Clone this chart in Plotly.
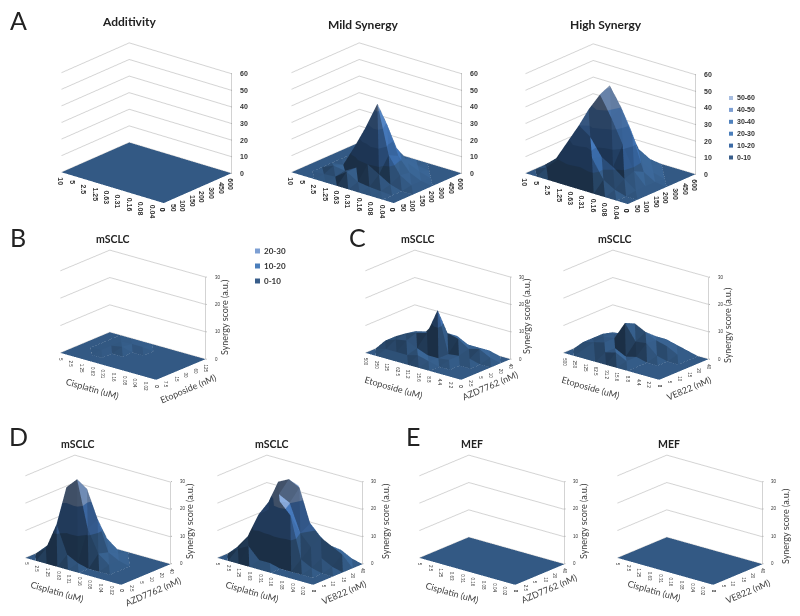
import plotly.graph_objects as go

# tick labels
a_x = ['10', '5', '2.5', '1.25', '0.63', '0.31', '0.16', '0.08', '0.04', '0']
a_y = ['0', '50', '100', '150', '200', '300', '450', '600']
cis_x = ['5', '2.5', '1.25', '0.63', '0.31', '0.16', '0.08', '0.04', '0.02', '0']
eto_x = ['500', '250', '125', '62.5', '31.2', '15.6', '8.8', '4.4', '2.2', '0']
eto_y = ['0', '7.5', '15', '30', '60', '125']
azd_y = ['0', '2.5', '5', '10', '20', '40']
ve_y = ['0', '5', '10', '15', '20', '40']

# synergy scores, one row per x label
zero_a = [[0] * 8 for i in range(10)]
zero_b = [[0] * 6 for i in range(10)]
mild = [
    [0, 0, 0, 0, 0, 0, 0, 0],
    [0, 0, 0, 0, 0, 0, 0, 0],
    [0, 0.5, 3, 1, 0.5, 0, 0, 0],
    [0, 1, 2, 14, 4, 1, 0, 0],
    [0, 6, 6, 28, 14, 3, 0, 0],
    [0, 2, 10, 44, 29, 12, 3, 0],
    [0, 1, 6, 15, 12, 5, 1, 0],
    [0, 0.5, 2, 5, 4, 2, 0, 0],
    [0, 0, 0, 1, 1, 0, 0, 0],
    [0, 0, 0, 0, 0, 0, 0, 0],
]
high = [
    [0, 0, 0, 0, 0, 0, 0, 0],
    [0, 3, 6, 3, 1, 0, 0, 0],
    [0, 10, 18, 22, 10, 2, 0, 0],
    [0, 14, 30, 37, 20, 4, 1, 0],
    [0, 12, 25, 48, 51, 33, 20, 5],
    [0, 17, 15, 36, 40, 24, 6, 1],
    [0, 6, 11, 22, 25, 6, 2, 0],
    [0, 2, 6, 8, 5, 2, 0, 0],
    [0, 0, 1, 1, 1, 0, 0, 0],
    [0, 0, 0, 0, 0, 0, 0, 0],
]
b_eto = [
    [0, 0, 0, 0, 0, 0],
    [0, 0, 0, 0, 0, 0],
    [0, 0, 0.3, 0.3, 0.3, 0],
    [0, 0, 0, 1, 0.5, 0],
    [0, 0, 0, 0, 0.5, 0],
    [0, 0, 0, 0, 0, 0],
    [0, 0, 0, 0, 0, 0],
    [0, 0, 0, 0, 0, 0],
    [0, 0, 0, 0, 0, 0],
    [0, 0, 0, 0, 0, 0],
]
c_azd = [
    [0, 0, 1.5, 1.5, 1, 0],
    [0, 1, 3, 3.7, 3, 1],
    [0, 1, 3.7, 5, 4, 2],
    [0, 1, 2, 6, 9, 3],
    [0, 2, 0.5, 15.5, 5.6, 3],
    [0, 1, 0.5, 0.5, 4.6, 1],
    [0, 0, 1, 1, 2, 1],
    [0, 0, 0, 1, 3, 1],
    [0, 0, 0, 0, 1, 0],
    [0, 0, 0, 0, 0, 0],
]
c_ve = [
    [0, 0, 1, 1, 1, 0],
    [0, 1, 2, 2.5, 2, 0.5],
    [0, 1, 3, 3, 3, 1],
    [0, 2, 2, 9.7, 8, 3],
    [0, 3, 0, 4, 6, 3],
    [0, 1, 1, 4.5, 4, 3],
    [0, 0, 0, 1, 3, 2],
    [0, 0, 0, 0, 1, 1],
    [0, 0, 0, 0, 0, 0],
    [0, 0, 0, 0, 0, 0],
]
d_azd = [
    [0, 0, 1, 1, 1, 0],
    [0, 3, 5, 8, 3, 0],
    [0, 13, 25, 22, 19, 8],
    [0, 3, 29, 24, 12, 3],
    [0, 1, 12, 14, 4, 0],
    [0, 0, 4, 3, 1, 0],
    [0, 0, 1, 1, 0, 0],
    [0, 0, 0, 0, 0, 0],
    [0, 0, 0, 0, 0, 0],
    [0, 0, 0, 0, 0, 0],
]
d_ve = [
    [0, 0, 1, 1, 1, 0],
    [0, 3, 6, 6, 3, 1],
    [0, 5, 15, 18, 24, 8],
    [0, 1, 18, 22, 26, 22],
    [0, 1, 22, 20, 24, 10],
    [0, 0, 18, 10, 12, 6],
    [0, 0, 3, 6, 8, 3],
    [0, 0, 1, 3, 6, 3],
    [0, 0, 0, 1, 4, 1],
    [0, 0, 0, 0, 0, 0],
]

colors_a = ['#3c699b', '#4076ba', '#4c86d0', '#5e95dc', '#8aaee2', '#b0c8ec']
colors_b = ['#3c699b', '#4a80c8', '#8cafe2']
legend_a = [('50-60', '#a7bde0'), ('40-50', '#7d9fd3'), ('30-40', '#4f81bd'),
            ('20-30', '#4a7ebb'), ('10-20', '#3c6aa5'), ('0-10', '#385d8a')]
legend_b = [('20-30', '#7d9fd3'), ('10-20', '#4a7ebb'), ('0-10', '#385d8a')]
W, H = 800, 616
title_font = 'Lato'


def band_scale(colors):
    # one extra band under zero keeps z=0 away from the end of the colour texture
    bands = [colors[0]] + colors
    n = len(bands)
    scale = []
    for i in range(n):
        scale.append([i / n, bands[i]])
        scale.append([(i + 1) / n, bands[i]])
    return scale


def grid_mesh(z):
    xs, ys, zs, ii, jj, kk = [], [], [], [], [], []
    nx, ny = len(z), len(z[0])
    for a in range(nx):
        for b in range(ny):
            xs.append(a)
            ys.append(b)
            zs.append(z[a][b])
    for a in range(nx - 1):
        for b in range(ny - 1):
            p = a * ny + b
            ii += [p, p + 1]
            jj += [p + 1, p + ny + 1]
            kk += [p + ny, p + ny]
    return xs, ys, zs, ii, jj, kk


fig = go.Figure()
count = 0


def add_panel(z, xlab, ylab, colors, cx, cy, aspect, width, height, eye, tick_size, tick_bold):
    global count
    count += 1
    name = 'scene' if count == 1 else 'scene%d' % count
    zmax = len(colors) * 10
    nx, ny = len(xlab), len(ylab)
    xs, ys, zs, ii, jj, kk = grid_mesh(z)
    fig.add_trace(go.Mesh3d(
        x=xs, y=ys, z=zs, i=ii, j=jj, k=kk, scene=name,
        intensity=zs, cmin=-10, cmax=zmax, colorscale=band_scale(colors),
        showscale=False, flatshading=True, hoverinfo='skip',
        lighting=dict(ambient=0.45, diffuse=0.6, specular=0, roughness=1, fresnel=0,
                      facenormalsepsilon=0, vertexnormalsepsilon=0),
        lightposition=dict(x=65000, y=65000, z=0)))
    fig.add_trace(go.Scatter3d(
        x=[nx - 1, nx - 1], y=[ny - 1, ny - 1], z=[0, zmax], mode='lines', scene=name,
        line=dict(color='#c4c4c4', width=1.5), hoverinfo='skip', showlegend=False))
    axis = dict(showgrid=False, zeroline=False, showbackground=False, showspikes=False,
                ticks='', showticklabels=False, title='')
    tf = dict(family='Liberation Sans', size=tick_size, color='#333333')
    if tick_bold:
        tf['weight'] = 'bold'
    notes = []
    for i, lab in enumerate(xlab):
        notes.append(dict(x=i, y=0, z=0, text=lab, textangle=90, showarrow=False, font=tf,
                          yanchor='top', xanchor='center', yshift=-3))
    for i, lab in enumerate(ylab):
        notes.append(dict(x=nx - 1, y=i, z=0, text=lab, textangle=90, showarrow=False, font=tf,
                          yanchor='top', xanchor='center', yshift=-3))
    for v in range(0, zmax + 1, 10):
        notes.append(dict(x=nx - 1, y=ny - 1, z=v, text=' ', showarrow=True, ax=4, ay=0,
                          arrowhead=0, arrowwidth=1, arrowcolor='#b0b0b0', standoff=0))
        notes.append(dict(x=nx - 1, y=ny - 1, z=v, text=str(v), showarrow=False, font=tf,
                          xanchor='left', xshift=7))
    fig.update_layout({name: dict(
        domain=dict(x=[(cx - width / 2) / W, (cx + width / 2) / W],
                    y=[1 - (cy + height / 2) / H, 1 - (cy - height / 2) / H]),
        aspectmode='manual', aspectratio=dict(x=aspect[0], y=aspect[1], z=aspect[2]),
        camera=dict(projection=dict(type='orthographic'), up=dict(x=0, y=0, z=1),
                    eye=dict(x=eye[0], y=eye[1], z=eye[2])),
        xaxis=dict(axis, range=[0, nx - 1]),
        yaxis=dict(axis, range=[0, ny - 1]),
        zaxis=dict(axis, range=[0, zmax], dtick=10, showgrid=True, gridcolor='#d4d4d4'),
        annotations=notes,
    )})


def note(text, x, y, size, bold=False, angle=0, family=title_font, color='#222222', anchor='center'):
    font = dict(family=family, size=size, color=color)
    if bold:
        font['weight'] = 'bold'
    fig.add_annotation(x=x / W, y=1 - y / H, xref='paper', yref='paper', text=text, showarrow=False,
                       font=font, textangle=angle, xanchor=anchor, yanchor='middle')


eye_a = [0.593 * 2.048, -0.717 * 2.048, 0.364 * 2.048]
eye_b = [0.59 * 2.237, -0.72 * 2.237, 0.34 * 2.237]
asp_a = [1.207, 0.966, 0.972]
asp_b = [1.305, 0.821, 0.92]
add_panel(zero_a, a_x, a_y, colors_a, 146, 123, asp_a, 225, 220, eye_a, 7, True)
add_panel(mild, a_x, a_y, colors_a, 376, 123, asp_a, 225, 220, eye_a, 7, True)
add_panel(high, a_x, a_y, colors_a, 610, 124, asp_a, 225, 220, eye_a, 7, True)
add_panel(b_eto, cis_x, eto_y, colors_b, 133, 315, asp_b, 180, 190, eye_b, 4.5, False)
add_panel(c_azd, eto_x, azd_y, colors_b, 437.8, 315, asp_b, 180, 190, eye_b, 4.5, False)
add_panel(c_ve, eto_x, ve_y, colors_b, 636.3, 315, asp_b, 180, 190, eye_b, 4.5, False)
add_panel(d_azd, cis_x, azd_y, colors_b, 98.3, 519.5, asp_b, 180, 190, eye_b, 4.5, False)
add_panel(d_ve, cis_x, ve_y, colors_b, 289.8, 519.5, asp_b, 180, 190, eye_b, 4.5, False)
add_panel(zero_b, cis_x, azd_y, colors_b, 491.8, 519.5, asp_b, 180, 190, eye_b, 4.5, False)
add_panel(zero_b, cis_x, ve_y, colors_b, 689.8, 519.5, asp_b, 180, 190, eye_b, 4.5, False)

# panel letters and titles
for letter, x, y in [('A', 18, 20), ('B', 18, 237), ('C', 357, 237), ('D', 18, 436), ('E', 413, 436)]:
    note(letter, x, y, 25)
for text, x, y, size in [('Additivity', 129, 22, 12), ('Mild Synergy', 363, 24, 12), ('High Synergy', 606, 24, 12),
                         ('mSCLC', 113, 239, 10.5), ('mSCLC', 418, 239, 10.5), ('mSCLC', 615, 239, 10.5),
                         ('mSCLC', 78, 444, 10.5), ('mSCLC', 272, 444, 10.5),
                         ('MEF', 472, 444, 10.5), ('MEF', 669, 444, 10.5)]:
    note(text, x, y, size, bold=True)

# axis titles
for text, x, y, ang in [('Cisplatin (uM)', 92, 389, 16), ('Etoposide (nM)', 188, 388, -23),
                        ('Etoposide (uM)', 394, 387, 16), ('AZD7762 (nM)', 490, 385, -23),
                        ('Etoposide (uM)', 591, 387, 16), ('VE822 (nM)', 688, 388, -23),
                        ('Cisplatin (uM)', 57, 591, 16), ('AZD7762 (nM)', 153, 591, -23),
                        ('Cisplatin (uM)', 252, 591, 16), ('VE822 (nM)', 343, 592, -23),
                        ('Cisplatin (uM)', 452, 592, 16), ('AZD7762 (nM)', 549, 588, -23),
                        ('Cisplatin (uM)', 654, 590, 16), ('VE822 (nM)', 747, 591, -23)]:
    note(text, x, y, 9, angle=ang, color='#404040')
for x, y in [(224, 318), (526, 317), (727, 326), (189, 522), (385, 522), (583, 522), (785, 527)]:
    note('Synergy score (a.u.)', x, y, 9, angle=-90, color='#404040')

# legends
for i, (lab, col) in enumerate(legend_a):
    y = 98 + i * 11.9
    fig.add_shape(type='rect', xref='paper', yref='paper', x0=729 / W, x1=733 / W,
                  y0=1 - (y + 2) / H, y1=1 - (y - 2) / H, fillcolor=col, line_width=0)
    note(lab, 735, y, 7, bold=True, family='Liberation Sans', color='#333333', anchor='left')
for i, (lab, col) in enumerate(legend_b):
    y = 251 + i * 15
    fig.add_shape(type='rect', xref='paper', yref='paper', x0=255 / W, x1=260 / W,
                  y0=1 - (y + 2.5) / H, y1=1 - (y - 2.5) / H, fillcolor=col, line_width=0)
    note(lab, 262, y, 8, bold=True, color='#333333', anchor='left')

fig.update_layout(width=W, height=H, margin=dict(l=0, r=0, t=0, b=0),
                  paper_bgcolor='white', showlegend=False)
fig.write_html("out.html", config={'displayModeBar': False},
               post_script="document.body.style.margin='0';")
